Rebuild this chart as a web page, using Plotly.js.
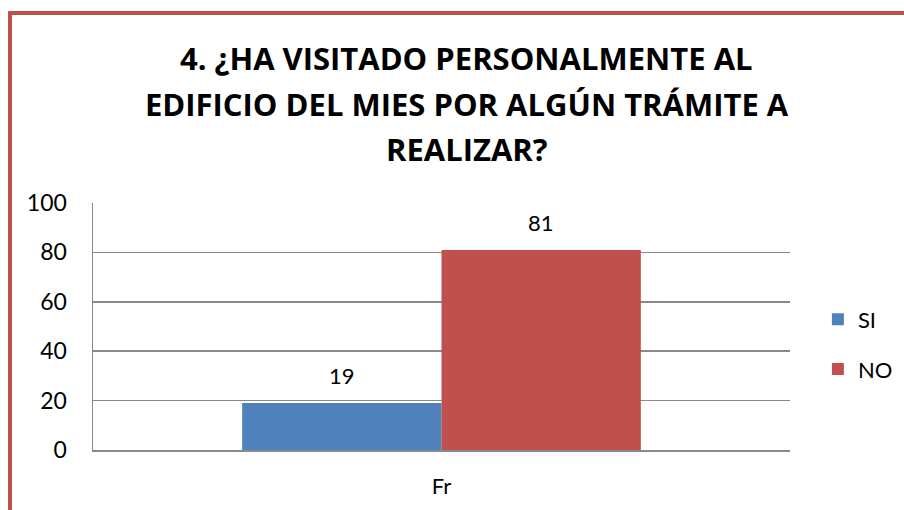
<!DOCTYPE html>
<html>
<head>
<meta charset="utf-8">
<script src="https://cdn.plot.ly/plotly-3.0.1.min.js"></script>
<style>
html,body{margin:0;padding:0;background:#fff;}
#wrap{position:relative;width:904px;height:510px;overflow:hidden;}
#chart{position:absolute;left:0;top:0;width:904px;height:510px;}
#frame{position:absolute;left:8px;top:11px;width:1000px;height:600px;border-top:4px solid #C0504D;border-left:4px solid #C0504D;pointer-events:none;z-index:5;}
</style>
</head>
<body>
<div id="wrap">
<div id="chart"></div>
<div id="frame"></div>
</div>
<script>
const categories = ["Fr"];
const seriesNames = ["SI", "NO"];
const siValues = [19];
const noValues = [81];
const yTicks = [0, 20, 40, 60, 80, 100];
const titleLines = [
  "4. ¿HA VISITADO PERSONALMENTE AL",
  "EDIFICIO DEL MIES POR ALGÚN TRÁMITE A",
  "REALIZAR?"
];
const colors = ["#4F81BD", "#C0504D"];
const font = "Lato, 'Liberation Sans', sans-serif";
const titleFont = "'Open Sans', Lato, sans-serif";

const series = [siValues, noValues];
const bargap = 0.428;

const traces = series.map((vals, i) => ({
  type: "bar",
  name: seriesNames[i],
  legendgroup: seriesNames[i],
  x: categories,
  y: vals,
  marker: {color: colors[i], line: {width: 0}},
  hoverinfo: "none"
}));

// plot area geometry (px) used to place title lines in paper coords
const mT = 203, mB = 60, H = 510;
const plotH = H - mT - mB;
const toPaperY = px => (H - mB - px) / plotH;

const annotations = [];
titleLines.forEach((t, k) => {
  annotations.push({
    text: "<b>" + t + "</b>",
    xref: "paper", yref: "paper",
    x: 0.536, y: toPaperY(58 + k * 45.5),
    xanchor: "center", yanchor: "middle",
    showarrow: false,
    font: {family: titleFont, size: 31, color: "#000"}
  });
});
series.forEach((vals, j) => {
  vals.forEach((v, i) => {
    annotations.push({
      text: String(v),
      xref: "x", yref: "y",
      x: i + (j - 0.5) * (1 - bargap) / 2,
      y: v,
      xanchor: "center", yanchor: "bottom",
      yshift: 12,
      showarrow: false,
      font: {family: font, size: 22, color: "#000"}
    });
  });
});

const layout = {
  width: 904, height: 510,
  margin: {l: 93, r: 114, t: mT, b: mB, autoexpand: false},
  paper_bgcolor: "rgba(0,0,0,0)",
  plot_bgcolor: "#fff",
  barmode: "group",
  bargap: bargap,
  bargroupgap: 0,
  annotations: annotations,
  xaxis: {
    showline: true, linecolor: "#898989", linewidth: 1.5,
    ticks: "", ticklabelstandoff: 16,
    tickfont: {family: font, size: 22, color: "#000"},
    showgrid: false, zeroline: false
  },
  yaxis: {
    range: [0, 100], tickvals: yTicks, ticktext: yTicks.map(String),
    showline: true, linecolor: "#898989", linewidth: 1.5,
    gridcolor: "#898989", gridwidth: 1.5,
    ticks: "", ticklabelstandoff: 20,
    tickfont: {family: font, size: 23, color: "#000"},
    zeroline: false
  },
  legend: {
    x: 1.040, xanchor: "left", y: 0.427, yanchor: "middle",
    font: {family: font, size: 22, color: "#000"},
    itemwidth: 30, tracegroupgap: 18,
    traceorder: "grouped",
    bgcolor: "rgba(0,0,0,0)"
  },
  showlegend: true
};

Plotly.newPlot("chart", traces, layout, {displayModeBar: false, staticPlot: true});
</script>
</body>
</html>
